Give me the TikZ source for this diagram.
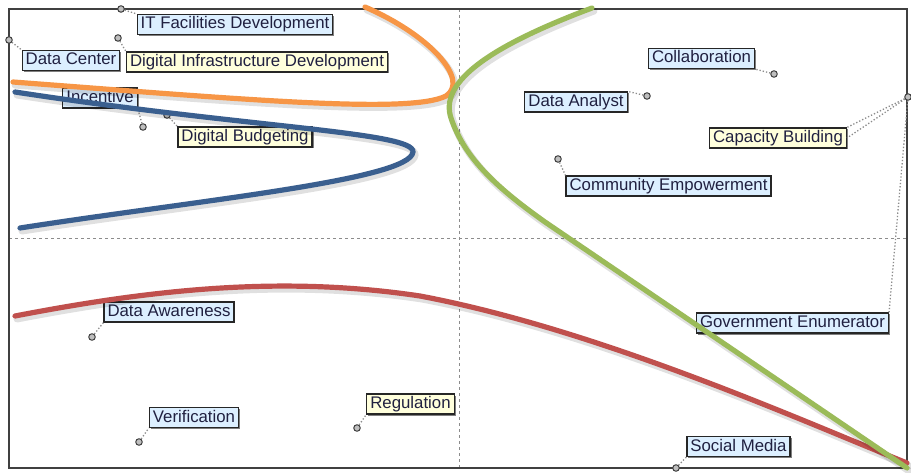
\documentclass[tikz,border=0pt]{standalone}
\usepackage{fontspec}
\setmainfont{Liberation Sans}
\usetikzlibrary{shadows}
\definecolor{lblblue}{HTML}{DCEFFF}
\definecolor{lblyellow}{HTML}{FFFFDC}
\definecolor{corange}{HTML}{F79646}
\definecolor{cblue}{HTML}{3A5F8F}
\definecolor{cgreen}{HTML}{9BBB59}
\definecolor{cred}{HTML}{C0504D}
\definecolor{txt}{HTML}{202040}
\newcommand\pOrange{(13,82) .. controls (250,100) and (410,114) .. (446,96) .. controls (470,80) and (430,35) .. (365,7)}
\newcommand\pBlue{(15,92) .. controls (250,128) and (415,132) .. (413,152) .. controls (410,180) and (200,200) .. (20,228)}
\newcommand\pGreen{(592,8) .. controls (480,50) and (440,85) .. (451,118) .. controls (465,160) and (500,190) .. (545,222) -- (907,468)}
\newcommand\pRed{(15,316) .. controls (150,290) and (280,275) .. (420,296) .. controls (600,330) and (800,420) .. (907,463)}
\begin{document}
\begin{tikzpicture}[x=1pt,y=-1pt,
 lbl/.style={draw=black!85, line width=1.2pt, inner xsep=3.5pt, inner ysep=2pt, text height=12.5pt, text depth=3.5pt, font=\fontsize{16.8}{18}\selectfont, text=txt, drop shadow={shadow xshift=1.5pt, shadow yshift=-1.5pt, fill=black, opacity=0.5}},
 bluelbl/.style={lbl, fill=lblblue},
 yellbl/.style={lbl, fill=lblyellow},
 marker/.style={circle, draw=black!75, fill=black!25, line width=1pt, inner sep=0pt, minimum size=6.5pt},
 leader/.style={draw=black!45, dotted, line width=1.3pt},
 curve/.style={line width=5.2pt, line cap=round},
 cshadow/.style={line width=7pt, draw=black, opacity=0.12, line cap=round, xshift=2pt, yshift=-3pt}
]
\useasboundingbox (0,0) rectangle (911,473);
\fill[white] (0,0) rectangle (911,473);
% frame and quadrant lines
\coordinate (vt) at (459,9); \coordinate (vb) at (459,468);
\coordinate (hl) at (9,238); \coordinate (hr) at (907,238);
\draw[black!45, dashed, line width=0.6pt] (vt) -- (vb);
\draw[black!45, dashed, line width=0.6pt] (hl) -- (hr);
\draw[black!75, line width=1.5pt] (9,9) rectangle (907,468);

% labels
\node[bluelbl] (itf) at (235,24.5) {IT Facilities Development};
\node[bluelbl] (dc) at (71,60.5) {Data Center};
\node[yellbl] (did) at (257,62) {Digital Infrastructure Development};
\node[bluelbl] (inc) at (100,98) {Incentive};
\node[yellbl] (db) at (245,137) {Digital Budgeting};
\node[bluelbl] (col) at (701.5,58.5) {Collaboration};
\node[bluelbl] (da) at (576,102) {Data Analyst};
\node[yellbl] (cb) at (778,138) {Capacity Building};
\node[bluelbl] (ce) at (668.5,186) {Community Empowerment};
\node[bluelbl] (ge) at (792.5,323) {Government Enumerator};
\node[bluelbl] (daw) at (169,312) {Data Awareness};
\node[bluelbl] (ver) at (194,417.5) {Verification};
\node[yellbl] (reg) at (410.5,404) {Regulation};
\node[bluelbl] (sm) at (738.5,446.5) {Social Media};

% markers
\node[marker] (mitf) at (121,9) {};
\node[marker] (mdc) at (9,40) {};
\node[marker] (mdid) at (118,38) {};
\node[marker] (minc) at (143,127) {};
\node[marker] (mdb) at (167,115) {};
\node[marker] (mcol) at (774,74) {};
\node[marker] (mda) at (647,96) {};
\node[marker] (mcb) at (908,97) {};
\node[marker] (mce) at (558,159) {};
\node[marker] (mdaw) at (92,337) {};
\node[marker] (mver) at (139,442) {};
\node[marker] (mreg) at (357,428) {};
\node[marker] (msm) at (676,468) {};

% leaders
\draw[leader] (mitf) -- (itf.north west);
\draw[leader] (mdc) -- (dc.north west);
\draw[leader] (mdid) -- (did.north west);
\draw[leader] (minc) -- (inc.south east);
\draw[leader] (mdb) -- (db.north west);
\draw[leader] (mcol) -- (col.south east);
\draw[leader] (mda) -- (da.north east);
\draw[leader] (mcb) -- (cb.east);
\draw[leader] (mcb) -- (cb.north east);
\draw[leader] (mcb) -- (ge.north east);
\draw[leader] (mce) -- (ce.north west);
\draw[leader] (mdaw) -- (daw.south west);
\draw[leader] (mver) -- (ver.south west);
\draw[leader] (mreg) -- (reg.south west);
\draw[leader] (msm) -- (sm.south west);

% curves
\draw[cshadow] \pOrange; \draw[curve, corange] \pOrange;
\draw[cshadow] \pBlue; \draw[curve, cblue] \pBlue;
\draw[cshadow] \pRed; \draw[curve, cred] \pRed;
\draw[cshadow] \pGreen; \draw[curve, cgreen] \pGreen;
\end{tikzpicture}
\end{document}
